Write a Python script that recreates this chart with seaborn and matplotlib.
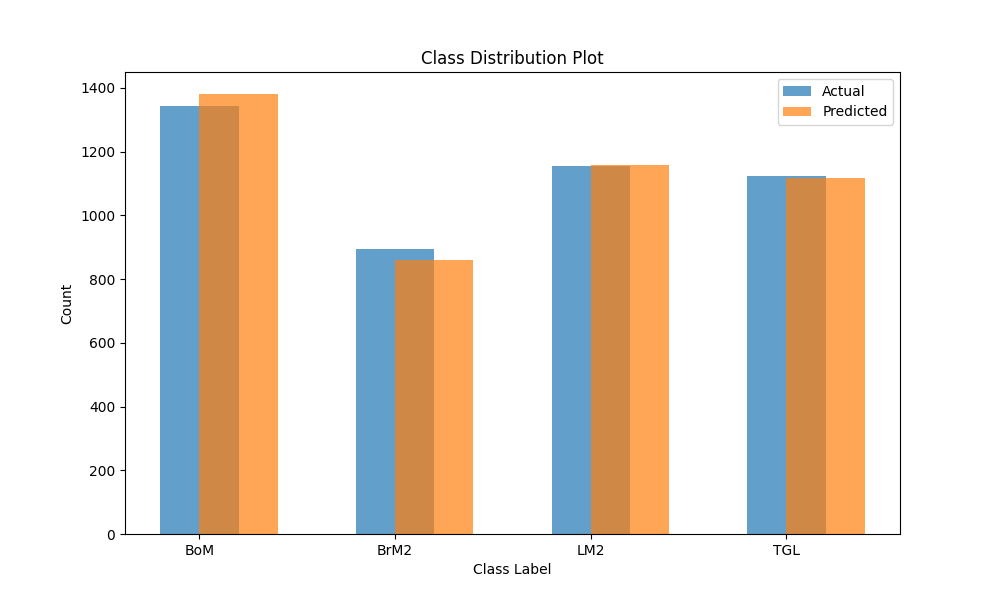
import numpy as np
import matplotlib
matplotlib.use("Agg")
import matplotlib.pyplot as plt
import seaborn as sns

# Class distribution data
classes = ['BoM', 'BrM2', 'LM2', 'TGL']
actual = [1343, 894, 1155, 1124]
predicted = [1381, 860, 1158, 1117]

palette = sns.color_palette('tab10')

fig, ax = plt.subplots(figsize=(10, 6), dpi=100)
x = np.arange(len(classes))
ax.bar(x, actual, width=0.4, alpha=0.7, color=palette[0], label='Actual')
ax.bar(x + 0.2, predicted, width=0.4, alpha=0.7, color=palette[1], label='Predicted')
ax.set_xticks(x)
ax.set_xticklabels(classes)
ax.set_xlabel('Class Label')
ax.set_ylabel('Count')
ax.set_title('Class Distribution Plot')
ax.legend()
plt.savefig('out.png')
